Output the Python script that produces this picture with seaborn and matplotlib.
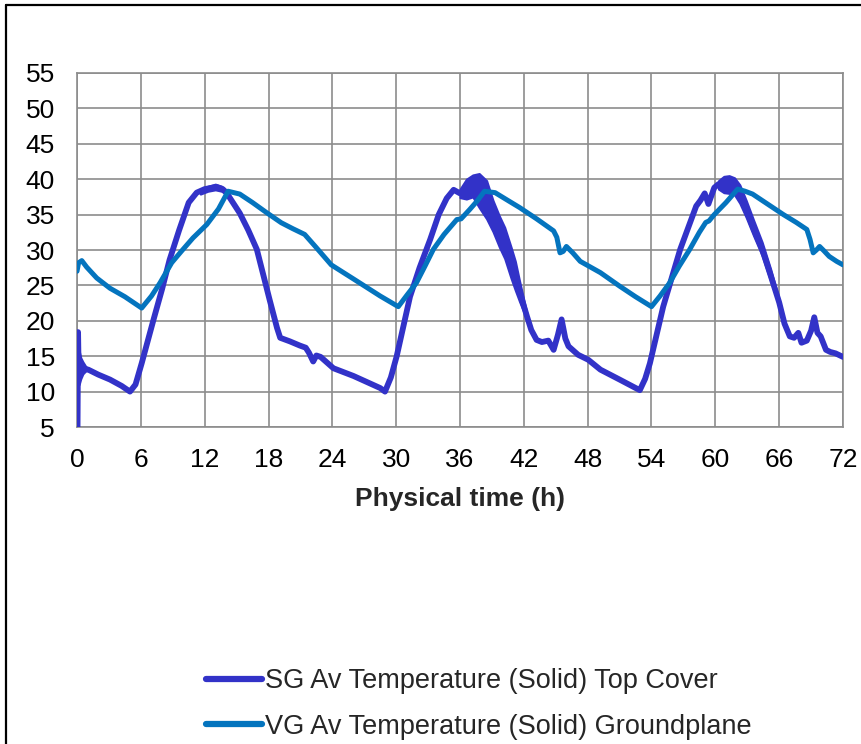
import numpy as np
import pandas as pd
import matplotlib
matplotlib.use("Agg")
import matplotlib.pyplot as plt
import seaborn as sns
from matplotlib.ticker import MultipleLocator
from matplotlib.lines import Line2D

# ---------------- data ----------------
SERIES = ["SG Av Temperature (Solid) Top Cover",
          "VG Av Temperature (Solid) Groundplane"]
XLABEL = "Physical time (h)"
X_TICKS = [0, 6, 12, 18, 24, 30, 36, 42, 48, 54, 60, 66, 72]
Y_TICKS = [5, 10, 15, 20, 25, 30, 35, 40, 45, 50, 55]

sg_t = [0.05, 0.1, 0.15, 0.3, 0.5, 0.75, 1.06, 2.0, 3.1, 4.2, 4.98, 5.5, 6.08, 7.2, 8.0, 8.7,
        9.6, 10.5, 11.25, 12.0, 13.1, 13.7, 14.05, 15.3, 16.1, 16.9, 18.1, 18.8, 19.1, 20.0,
        20.95, 21.5, 21.8, 22.2, 22.5, 22.9, 24.1, 26.0, 28.5, 28.95, 29.5, 30.05, 31.3, 32.2,
        33.2, 34.0, 34.75, 35.4, 36.0, 36.6, 37.2, 37.8, 38.5, 39.1, 39.7, 40.2, 40.8, 41.2,
        41.6, 41.9, 42.3, 42.7, 43.2, 43.7, 44.3, 44.8, 45.2, 45.55, 45.9, 46.2, 47.1, 48.05,
        49.2, 51.0, 52.9, 53.4, 53.85, 55.1, 56.7, 58.2, 58.6, 59.0, 59.35, 59.9, 60.3, 60.8,
        61.3, 61.8, 62.3, 62.9, 63.6, 64.4, 65.2, 66.0, 66.5, 67.0, 67.4, 67.8, 68.1, 68.6,
        69.0, 69.3, 69.6, 69.9, 70.4, 70.8, 71.3, 72.0]
sg_v = [5.0, 18.4, 13.5, 13.5, 13.3, 13.2, 13.1, 12.4, 11.7, 10.8, 10.0, 11.0, 14.0, 20.2, 24.5, 28.6,
        32.8, 36.7, 38.1, 38.6, 38.9, 38.6, 38.1, 35.2, 32.8, 30.1, 23.0, 19.0, 17.6, 17.1,
        16.5, 16.2, 15.5, 14.25, 15.1, 14.9, 13.3, 12.2, 10.5, 10.0, 12.0, 15.0, 23.4, 27.5,
        31.5, 35.0, 37.3, 38.5, 38.0, 38.5, 39.0, 38.6, 37.1, 34.7, 32.6, 31.0, 28.2, 26.3,
        24.2, 22.6, 20.6, 18.7, 17.3, 17.0, 17.2, 15.9, 18.0, 20.2, 17.5, 16.4, 15.2, 14.5,
        13.1, 11.7, 10.2, 11.8, 14.0, 22.0, 30.1, 36.2, 37.0, 38.0, 36.5, 38.8, 39.3, 39.3,
        39.3, 38.9, 37.8, 35.7, 33.0, 30.1, 26.4, 22.6, 19.6, 17.8, 17.6, 18.3, 16.9, 17.2,
        18.6, 20.5, 18.3, 17.8, 15.9, 15.6, 15.4, 14.9]

vg_t = [0.0, 0.15, 0.45, 0.9, 1.85, 3.1, 4.5, 6.08, 7.0, 7.8, 8.9, 9.8, 10.9, 12.2, 13.3, 14.2,
        15.3, 16.5, 17.8, 19.2, 20.3, 21.4, 22.4, 23.9, 26.0, 28.5, 30.2, 31.0, 31.9, 32.7, 33.5,
        34.5, 35.3, 35.7, 36.1, 36.9, 37.6, 38.3, 39.3, 40.5, 41.6, 43.2, 44.8, 45.1, 45.4, 45.7,
        46.0, 46.6, 47.3, 49.2, 51.0, 52.5, 54.0, 54.8, 55.7, 56.6, 57.6, 58.5, 59.1, 59.4, 59.9,
        61.0, 62.1, 62.8, 63.5, 65.0, 66.4, 67.6, 68.6, 68.9, 69.2, 69.5, 69.8, 70.2, 70.7, 71.4, 72.0]
vg_v = [27.0, 28.2, 28.5, 27.6, 26.05, 24.6, 23.4, 21.8, 23.5, 25.35, 28.2, 29.8, 31.7, 33.6, 35.8, 38.3,
        37.9, 36.7, 35.3, 33.85, 33.0, 32.2, 30.5, 27.9, 25.9, 23.5, 22.0, 23.6, 25.35, 27.7, 30.1,
        32.2, 33.6, 34.3, 34.4, 35.7, 36.9, 38.3, 38.1, 37.0, 36.0, 34.4, 32.7, 31.8, 29.6, 29.8,
        30.5, 29.6, 28.4, 26.8, 24.9, 23.4, 22.0, 23.5, 25.35, 27.7, 30.1, 32.5, 33.9, 34.1, 35.0,
        36.7, 38.6, 38.3, 37.9, 36.4, 35.0, 33.9, 32.9, 31.5, 29.6, 30.0, 30.5, 29.9, 29.1, 28.4, 27.9]

# oscillation envelopes of the SG trace
band0_t = [0.1, 0.2, 0.35, 0.55, 0.8, 1.0]
band0_lo = [11.0, 11.0, 11.8, 12.5, 12.9, 13.0]
band0_hi = [16.5, 15.8, 14.8, 14.2, 13.6, 13.3]

band1_t = [11.6, 12.3, 13.0, 13.6, 14.0]
band1_lo = [37.9, 38.3, 38.5, 38.3, 37.9]
band1_hi = [38.6, 39.0, 39.3, 39.0, 38.4]

band2_t = [36.0, 36.6, 37.2, 37.8, 38.5, 39.1, 39.7, 40.2, 40.8, 41.2, 41.6, 41.9, 42.3]
band2_lo = [37.4, 37.2, 37.5, 36.0, 34.4, 32.6, 30.4, 28.8, 26.0, 24.3, 22.7, 21.6, 20.2]
band2_hi = [38.6, 40.0, 40.6, 40.8, 39.8, 37.0, 34.8, 33.2, 30.4, 28.4, 25.6, 23.6, 21.0]

band3_t = [60.3, 60.8, 61.3, 61.8, 62.3, 62.9, 63.6, 64.4, 65.2, 66.0]
band3_lo = [38.6, 38.1, 38.0, 37.8, 36.6, 34.6, 32.0, 29.2, 25.6, 22.2]
band3_hi = [39.8, 40.4, 40.5, 40.2, 39.2, 37.0, 34.2, 31.1, 27.3, 23.0]

SG_COLOR = "#3232C8"
VG_COLOR = "#0474BE"
GRID_COLOR = "#8C8C8C"

# ---------------- figure ----------------
sns.set_theme(style="white")
plt.rcParams["font.family"] = ["Liberation Sans", "DejaVu Sans"]
FS = 19

fig = plt.figure(figsize=(8.61, 7.44), dpi=100)
fig.patch.set_facecolor("white")
ax = fig.add_axes([77 / 861, 1 - 427 / 744, 766 / 861, 354 / 744])

df_sg = pd.DataFrame({"t": sg_t, "v": sg_v})
df_vg = pd.DataFrame({"t": vg_t, "v": vg_v})

for bt, blo, bhi in [(band0_t, band0_lo, band0_hi), (band1_t, band1_lo, band1_hi),
                     (band2_t, band2_lo, band2_hi), (band3_t, band3_lo, band3_hi)]:
    ax.fill_between(bt, blo, bhi, color=SG_COLOR, lw=1.5, edgecolor=SG_COLOR, zorder=3)

sns.lineplot(data=df_sg, x="t", y="v", color=SG_COLOR, linewidth=4.2, estimator=None,
             sort=False, ax=ax, solid_joinstyle="round", solid_capstyle="round", zorder=3.1)
sns.lineplot(data=df_vg, x="t", y="v", color=VG_COLOR, linewidth=3.6, estimator=None,
             sort=False, ax=ax, solid_joinstyle="round", solid_capstyle="round", zorder=3.2)

ax.set_xlim(0, 72)
ax.set_ylim(5, 55)
ax.set_xticks(X_TICKS)
ax.set_yticks(Y_TICKS)
ax.xaxis.set_minor_locator(MultipleLocator(1))
ax.yaxis.set_minor_locator(MultipleLocator(1))
ax.grid(True, which="major", color=GRID_COLOR, linewidth=1.2)
ax.set_axisbelow(True)
for s in ax.spines.values():
    s.set_color(GRID_COLOR)
    s.set_linewidth(1.2)
ax.tick_params(axis="both", which="both", direction="out", colors=GRID_COLOR,
               labelcolor="black", labelsize=FS, width=1.1)
ax.tick_params(axis="x", which="major", length=6, pad=9)
ax.tick_params(axis="x", which="minor", length=3.8)
ax.tick_params(axis="y", which="major", length=5, pad=11)
ax.tick_params(axis="y", which="minor", length=4)
ax.tick_params(axis="both", which="minor", labelleft=False, labelbottom=False)

ax.set_xlabel(XLABEL, fontsize=FS, fontweight="bold", labelpad=11)
ax.set_ylabel("")

handles = [Line2D([], [], color=SG_COLOR, lw=4.5, solid_capstyle="round"),
           Line2D([], [], color=VG_COLOR, lw=4.5, solid_capstyle="round")]
fig.legend(handles, SERIES, loc="center", bbox_to_anchor=(0.556, 0.054), frameon=False,
           fontsize=19.5, handlelength=2.05, handletextpad=0.12, labelspacing=0.72,
           borderpad=0.0)

# outer chart frame (partly cropped in the reference)
fig.add_artist(Line2D([6 / 861, 6 / 861], [0, 1 - 5 / 744], transform=fig.transFigure,
                      color="black", lw=1.6))
fig.add_artist(Line2D([6 / 861, 1], [1 - 5 / 744, 1 - 5 / 744], transform=fig.transFigure,
                      color="black", lw=1.6))

fig.savefig("out.png", dpi=100)
